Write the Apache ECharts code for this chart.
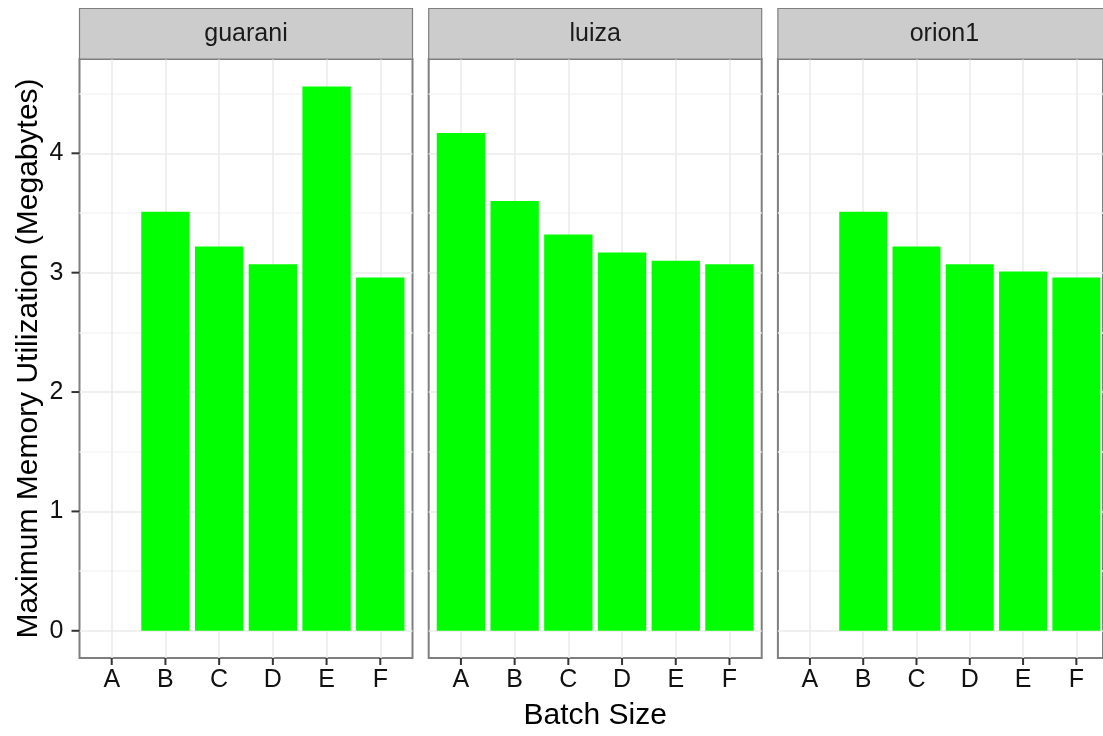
<!DOCTYPE html>
<html>
<head>
<meta charset="utf-8">
<script src="https://cdn.jsdelivr.net/npm/echarts@6/dist/echarts.min.js"></script>
<style>
  html, body { margin: 0; padding: 0; background: #ffffff; }
  #chart { width: 1103px; height: 736px; }
</style>
</head>
<body>
<div id="chart"></div>
<script>
// ---- data ----
const categories = ['A', 'B', 'C', 'D', 'E', 'F'];
const panels = ['guarani', 'luiza', 'orion1'];
const guarani = [null, 3.51, 3.22, 3.07, 4.56, 2.96];
const luiza = [4.17, 3.60, 3.32, 3.17, 3.10, 3.07];
const orion1 = [null, 3.51, 3.22, 3.07, 3.01, 2.96];
const yTicks = [0, 1, 2, 3, 4];
const yMinorTicks = [0.5, 1.5, 2.5, 3.5, 4.5];
const xTitle = 'Batch Size';
const yTitle = 'Maximum Memory Utilization (Megabytes)';

const panelValues = [guarani, luiza, orion1];
const yMin = -0.228, yMax = 4.79;

// ---- layout ----
const FONT = '"Liberation Sans", Arial, Helvetica, sans-serif';
const frameW = 333, frameTop = 59, frameH = 599, gap = 16.2;
const stripTop = 8.5;
const frameLeft = panels.map((_, i) => 79.5 + i * (frameW + gap));
const inset = frameW * 0.1 / 6.2;
const dataW = frameW * 6 / 6.2;
const frameColor = '#7f7f7f';
const tickColor = '#333333';

const grids = [], xAxes = [], yAxes = [], series = [], graphics = [];
const yMajorIdx = [];

panels.forEach((name, i) => {
  const fl = frameLeft[i];
  const gFrame = 2 * i, gData = 2 * i + 1;
  grids.push({ left: fl, top: frameTop, width: frameW, height: frameH,
    show: true, borderColor: frameColor, borderWidth: 2, backgroundColor: 'transparent', containLabel: false });
  grids.push({ left: fl + inset, top: frameTop, width: dataW, height: frameH,
    show: false, containLabel: false });

  xAxes.push({ gridIndex: gFrame, type: 'value', min: 0, max: 1, show: false });
  xAxes.push({
    gridIndex: gData, type: 'category', data: categories, position: 'bottom',
    axisLine: { show: false, onZero: false },
    axisTick: { show: false, alignWithLabel: true },
    axisLabel: { show: true, interval: 0, margin: 10, fontSize: 25,
      fontFamily: FONT, color: '#111111' },
    splitLine: { show: true, alignWithLabel: true, interval: 0,
      lineStyle: { color: '#ebebeb', width: 1.6 } }
  });

  yMajorIdx.push(yAxes.length);
  yAxes.push({
    gridIndex: gFrame, type: 'value', min: yMin, max: yMax, position: 'left',
    axisLine: { show: false, onZero: false },
    axisTick: { show: false, customValues: yTicks },
    axisLabel: { show: i === 0, customValues: yTicks, margin: 16, fontSize: 25,
      fontFamily: FONT, color: '#111111' },
    splitLine: { show: true, lineStyle: { color: '#ebebeb', width: 1.6 } }
  });
  yAxes.push({
    gridIndex: gFrame, type: 'value', min: yMin, max: yMax, position: 'right',
    axisLine: { show: false, onZero: false },
    axisTick: { show: false, customValues: yMinorTicks },
    axisLabel: { show: false, customValues: yMinorTicks },
    splitLine: { show: true, lineStyle: { color: '#f5f5f5', width: 1.6 } }
  });
  const yDataIdx = yAxes.length;
  yAxes.push({ gridIndex: gData, type: 'value', min: yMin, max: yMax, show: false });

  series.push({
    type: 'bar', name: name,
    xAxisIndex: gData, yAxisIndex: yDataIdx,
    data: panelValues[i],
    barWidth: '90%',
    itemStyle: { color: '#00ff00' },
    z: 5
  });

  graphics.push({
    type: 'rect', z: 10,
    shape: { x: fl, y: stripTop, width: frameW, height: frameTop - stripTop },
    style: { fill: '#cccccc', stroke: frameColor, lineWidth: 1.2 }
  });
  graphics.push({
    type: 'text', z: 11,
    x: fl + frameW / 2, y: (stripTop + frameTop) / 2,
    style: { text: name, fontSize: 25, fontFamily: FONT, fill: '#1a1a1a',
      align: 'center', verticalAlign: 'middle' }
  });
});

const panelsCenter = (frameLeft[0] + frameLeft[2] + frameW) / 2;
graphics.push({
  type: 'text', z: 11, x: panelsCenter, y: 716,
  style: { text: xTitle, fontSize: 30, fontFamily: FONT, fill: '#000000',
    align: 'center', verticalAlign: 'middle' }
});
graphics.push({
  type: 'text', z: 11, x: 29, y: frameTop + frameH / 2, rotation: Math.PI / 2,
  style: { text: yTitle, fontSize: 30, fontFamily: FONT, fill: '#000000',
    align: 'center', verticalAlign: 'middle' }
});

const chart = echarts.init(document.getElementById('chart'), null, { renderer: 'canvas' });
chart.setOption({
  animation: false,
  backgroundColor: '#ffffff',
  grid: grids,
  xAxis: xAxes,
  yAxis: yAxes,
  series: series,
  graphic: graphics
});

// axis ticks, positioned through the axes' own scales
const tickGraphics = [];
const bottom = frameTop + frameH;
panels.forEach((name, i) => {
  categories.forEach((c, j) => {
    let px = chart.convertToPixel({ xAxisIndex: 2 * i + 1 }, j);
    if (Array.isArray(px)) px = px[0];
    tickGraphics.push({ type: 'rect', z: 12,
      shape: { x: px - 1, y: bottom, width: 2, height: 7 },
      style: { fill: tickColor } });
  });
});
yTicks.forEach(v => {
  let py = chart.convertToPixel({ yAxisIndex: yMajorIdx[0] }, v);
  if (Array.isArray(py)) py = py[1];
  tickGraphics.push({ type: 'rect', z: 12,
    shape: { x: frameLeft[0] - 8, y: py - 1, width: 8, height: 2 },
    style: { fill: tickColor } });
});
chart.setOption({ graphic: graphics.concat(tickGraphics) });
</script>
</body>
</html>
